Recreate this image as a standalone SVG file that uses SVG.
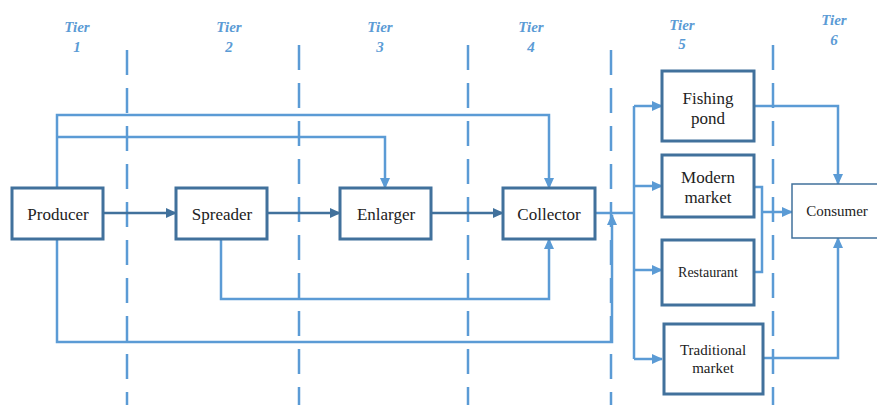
<svg xmlns="http://www.w3.org/2000/svg" width="877" height="405" viewBox="0 0 877 405">
<style>
.tier{font-family:'Liberation Serif','Times New Roman',serif;font-style:italic;font-weight:bold;font-size:15px;fill:#5B9BD5;text-anchor:middle}
.lbl{font-family:'Liberation Serif','Times New Roman',serif;fill:#222;text-anchor:middle}
.l17{font-size:17px}
.l15{font-size:15px}
.l14{font-size:14px}
.div{stroke:#5B9BD5;stroke-width:2.5;stroke-dasharray:25 13;fill:none}
.c{stroke:#5B9BD5;stroke-width:2.5;fill:none}
.cd{stroke:#41719C;stroke-width:2.5;fill:none}
.box{fill:#fff;stroke:#41719C;stroke-width:3}
</style>
<defs>
<marker id="a" markerUnits="userSpaceOnUse" markerWidth="11" markerHeight="11" refX="10" refY="5.5" orient="auto" viewBox="0 0 11 11"><path d="M0,0.5 L11,5.5 L0,10.5 z" fill="#5B9BD5"/></marker>
<marker id="ad" markerUnits="userSpaceOnUse" markerWidth="11" markerHeight="11" refX="10" refY="5.5" orient="auto" viewBox="0 0 11 11"><path d="M0,0.5 L11,5.5 L0,10.5 z" fill="#41719C"/></marker>
</defs>
<g id="tiers">
<text class="tier" x="77" y="32">Tier</text><text class="tier" x="77" y="52">1</text>
<text class="tier" x="229" y="32">Tier</text><text class="tier" x="229" y="52">2</text>
<text class="tier" x="380" y="32">Tier</text><text class="tier" x="380" y="52">3</text>
<text class="tier" x="531" y="32">Tier</text><text class="tier" x="531" y="52">4</text>
<text class="tier" x="682" y="30">Tier</text><text class="tier" x="682" y="49">5</text>
<text class="tier" x="834" y="25">Tier</text><text class="tier" x="834" y="45">6</text>
</g>
<g id="dividers">
<line class="div" x1="127" y1="50" x2="127" y2="405"/>
<line class="div" x1="299" y1="45" x2="299" y2="405"/>
<line class="div" x1="468" y1="45" x2="468" y2="405"/>
<line class="div" x1="611" y1="50" x2="611" y2="405"/>
<line class="div" x1="773" y1="45" x2="773" y2="405"/>
</g>
<g id="connectors">
<path class="c" d="M57,188 V115 H549 V188" marker-end="url(#a)"/>
<path class="c" d="M57,137 H385 V188" marker-end="url(#a)"/>
<path class="cd" d="M103,213 H176" marker-end="url(#ad)"/>
<path class="cd" d="M267,213 H340" marker-end="url(#ad)"/>
<path class="cd" d="M431,213 H503" marker-end="url(#ad)"/>
<path class="c" d="M221,239 V299 H549 V239" marker-end="url(#a)"/>
<path class="c" d="M57,239 V342 H612 V215" marker-end="url(#a)"/>
<path class="c" d="M595,213 H634"/>
<path class="c" d="M634,106 V359"/>
<path class="c" d="M634,106 H662" marker-end="url(#a)"/>
<path class="c" d="M634,186 H662" marker-end="url(#a)"/>
<path class="c" d="M634,270 H662" marker-end="url(#a)"/>
<path class="c" d="M634,359 H662" marker-end="url(#a)"/>
<path class="c" d="M754,106 H838 V184" marker-end="url(#a)"/>
<path class="c" d="M754,187 H762 V272 H754"/>
<path class="c" d="M762,212 H792" marker-end="url(#a)"/>
<path class="c" d="M764,358 H838 V238" marker-end="url(#a)"/>
</g>
<g id="producer"><rect class="box" x="12" y="188" width="91" height="51"/><text class="lbl l17" x="58" y="220">Producer</text></g>
<g id="spreader"><rect class="box" x="176" y="188" width="91" height="51"/><text class="lbl l17" x="222" y="220">Spreader</text></g>
<g id="enlarger"><rect class="box" x="340" y="188" width="91" height="51"/><text class="lbl l17" x="386" y="220">Enlarger</text></g>
<g id="collector"><rect class="box" x="503" y="188" width="92" height="51"/><text class="lbl l17" x="549" y="220">Collector</text></g>
<g id="fishing-pond"><rect class="box" x="662" y="71" width="92" height="70"/><text class="lbl l17" x="708" y="104">Fishing</text><text class="lbl l17" x="708" y="124">pond</text></g>
<g id="modern-market"><rect class="box" x="662" y="155" width="92" height="62"/><text class="lbl l17" x="708" y="183">Modern</text><text class="lbl l17" x="708" y="203">market</text></g>
<g id="restaurant"><rect class="box" x="662" y="240" width="92" height="65"/><text class="lbl l14" x="708" y="277">Restaurant</text></g>
<g id="traditional-market"><rect class="box" x="664" y="324" width="99" height="70"/><text class="lbl l15" x="713" y="355">Traditional</text><text class="lbl l15" x="713" y="373">market</text></g>
<g id="consumer"><rect x="792" y="184" width="100" height="54" fill="#fff" stroke="#41719C" stroke-width="1.5"/><text class="lbl l15" x="837" y="216">Consumer</text></g>
</svg>
